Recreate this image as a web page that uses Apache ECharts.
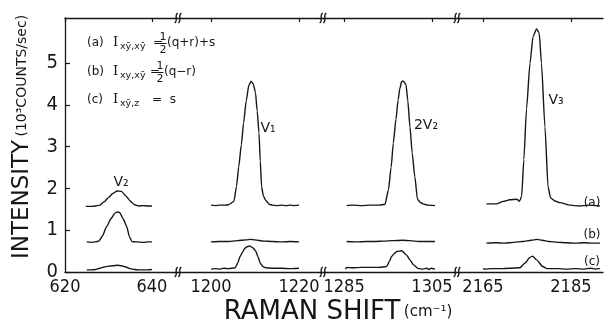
<!DOCTYPE html>
<html>
<head>
<meta charset="utf-8">
<script src="https://cdn.jsdelivr.net/npm/echarts@6/dist/echarts.min.js"></script>
<style>html,body{margin:0;padding:0;background:#fff}#c{width:608px;height:332px}</style>
</head>
<body>
<div id="c"></div>
<script>
// ---- data (Raman shift cm^-1, intensity 10^3 counts/sec) ----
const panelRanges = [[620, 646], [1192.5, 1225.45], [1280.2, 1310.7], [2159.1, 2192.3]];
const panelTicks = [[620, 640], [1200, 1220], [1285, 1305], [2165, 2185]];
const yTicks = [0, 1, 2, 3, 4, 5];
const yMax = 6.08;

// nu2 panel
const nu2A = [[624.8,1.57],[626,1.57],[627,1.58],[628,1.6],[629,1.68],[630,1.78],[631,1.88],[632,1.94],[633,1.93],[634,1.82],[635,1.7],[636,1.61],[637,1.58],[638,1.59],[639,1.58],[640,1.58]];
const nu2B = [[625,0.72],[626,0.71],[627,0.72],[627.8,0.74],[628.6,0.86],[629.6,1.09],[630.6,1.28],[631.5,1.41],[632,1.44],[632.6,1.42],[633.4,1.27],[634.2,1.09],[634.8,0.85],[635.4,0.73],[636.5,0.72],[638,0.71],[639,0.72],[640,0.72]];
const nu2C = [[625,0.05],[626,0.05],[627,0.06],[628,0.09],[629,0.12],[630,0.14],[631,0.15],[632,0.16],[633,0.15],[634,0.12],[635,0.08],[636,0.06],[637,0.05],[638,0.05],[639,0.05],[640,0.06]];
// nu1 panel
const nu1A = [[1200,1.6],[1201,1.59],[1202,1.6],[1203,1.6],[1204,1.61],[1205.2,1.69],[1205.8,2.05],[1206.3,2.52],[1206.9,3.05],[1207.4,3.56],[1208,4.1],[1208.6,4.47],[1209.1,4.57],[1209.6,4.5],[1210.1,4.3],[1210.5,3.85],[1210.9,3.33],[1211.2,2.65],[1211.5,2.04],[1211.9,1.82],[1212.4,1.72],[1213.2,1.62],[1214,1.6],[1215,1.59],[1216,1.6],[1217,1.59],[1218,1.6],[1219,1.59],[1220,1.6]];
const nu1B = [[1200,0.72],[1202,0.73],[1204,0.73],[1206,0.75],[1208,0.77],[1209,0.78],[1210,0.77],[1212,0.74],[1214,0.73],[1216,0.72],[1218,0.73],[1220,0.72]];
const nu1C = [[1200,0.07],[1201,0.08],[1202,0.07],[1203,0.09],[1204,0.08],[1205.5,0.1],[1206.1,0.22],[1206.6,0.37],[1207.2,0.48],[1207.7,0.57],[1208.3,0.61],[1208.9,0.62],[1209.5,0.58],[1210.1,0.51],[1210.7,0.36],[1211.2,0.21],[1211.8,0.13],[1212.4,0.1],[1214,0.09],[1216,0.09],[1218,0.08],[1220,0.09]];
// 2nu2 panel
const nu22A = [[1285.6,1.59],[1287,1.6],[1289,1.59],[1291,1.6],[1293,1.6],[1294.3,1.62],[1295.1,1.97],[1295.7,2.5],[1296.2,3.08],[1296.8,3.65],[1297.3,4.12],[1297.7,4.4],[1298.1,4.56],[1298.5,4.57],[1299.1,4.48],[1299.5,4.1],[1300,3.47],[1300.5,2.85],[1301.1,2.28],[1301.7,1.74],[1302.3,1.67],[1303,1.63],[1304,1.6],[1305.7,1.59]];
const nu22B = [[1285.6,0.73],[1288,0.72],[1290,0.73],[1292,0.73],[1294,0.74],[1296,0.75],[1298.3,0.76],[1300,0.75],[1302,0.73],[1304,0.73],[1305.7,0.73]];
const nu22C = [[1285.3,0.07],[1285.6,0.11],[1287,0.1],[1289,0.11],[1291,0.11],[1293,0.11],[1294.7,0.13],[1295.3,0.25],[1295.8,0.37],[1296.4,0.44],[1297,0.49],[1298.1,0.51],[1299.2,0.41],[1300,0.29],[1300.8,0.17],[1301.9,0.08],[1303,0.07],[1303.8,0.09],[1304.3,0.06],[1304.8,0.09],[1305.7,0.07]];
// nu3 panel
const nu3A = [[2165.8,1.63],[2168.1,1.63],[2169.6,1.69],[2171.1,1.73],[2172.7,1.74],[2173.3,1.69],[2173.8,1.81],[2174.3,2.69],[2174.9,3.89],[2175.7,5.0],[2176.4,5.64],[2177.2,5.82],[2177.8,5.72],[2178.3,5.0],[2179.1,3.48],[2179.8,2.04],[2180.4,1.77],[2181.4,1.7],[2182.5,1.66],[2184.8,1.6],[2186.9,1.58],[2189,1.6],[2191.6,1.58]];
const nu3B = [[2165.8,0.69],[2168,0.7],[2170,0.69],[2172,0.71],[2174,0.73],[2176,0.76],[2177.3,0.78],[2178.5,0.76],[2180,0.73],[2182,0.71],[2184,0.7],[2186,0.69],[2188,0.7],[2190,0.69],[2191.6,0.69]];
const nu3C = [[2165.1,0.09],[2165.2,0.07],[2167,0.08],[2169,0.08],[2171,0.09],[2173.4,0.1],[2174.5,0.21],[2175.7,0.35],[2176.3,0.38],[2177.2,0.29],[2178.6,0.13],[2179.6,0.08],[2182,0.08],[2184,0.07],[2186,0.08],[2188,0.07],[2189.5,0.09],[2190.5,0.07],[2191.6,0.08]];

const panelSeries = [[nu2A, nu2B, nu2C], [nu1A, nu1B, nu1C], [nu22A, nu22B, nu22C], [nu3A, nu3B, nu3C]];

// ---- layout ----
const gridTop = 18, gridHeight = 254;
const gridBoxes = [[65, 113], [178, 145], [323, 134], [457, 146]];
const INK = '#161616';
const NUMFONT = "'Liberation Sans Narrow','DejaVu Sans Condensed','Liberation Sans',sans-serif";
const TXTFONT = "'DejaVu Sans','Liberation Sans',sans-serif";

const grid = gridBoxes.map(b => ({left: b[0], width: b[1], top: gridTop, height: gridHeight}));
const xAxis = [];
const yAxis = [];
const series = [];
gridBoxes.forEach((b, i) => {
  const [mn, mx] = panelRanges[i];
  xAxis.push({
    type: 'value', gridIndex: i, position: 'bottom', min: mn, max: mx,
    axisLine: {show: true, onZero: false, lineStyle: {color: INK, width: 1.3}},
    axisTick: {show: false}, splitLine: {show: false},
    axisLabel: {customValues: panelTicks[i], formatter: v => String(v), color: INK, fontSize: 18, fontFamily: NUMFONT, margin: 6}
  });
  xAxis.push({
    type: 'value', gridIndex: i, position: 'top', min: mn, max: mx,
    axisLine: {show: true, onZero: false, lineStyle: {color: INK, width: 1.3}},
    axisTick: {show: true, inside: true, length: 4, customValues: panelTicks[i], lineStyle: {color: INK, width: 1.2}},
    axisLabel: {show: false}, splitLine: {show: false}
  });
  yAxis.push({
    type: 'value', gridIndex: i, min: 0, max: yMax, show: i === 0,
    axisLine: {show: true, lineStyle: {color: INK, width: 1.3}},
    axisTick: {show: true, inside: true, length: 5, customValues: yTicks, lineStyle: {color: INK, width: 1.2}},
    axisLabel: {customValues: yTicks, color: INK, fontSize: 20, fontFamily: NUMFONT, margin: 7},
    splitLine: {show: false}
  });
  panelSeries[i].forEach(d => {
    series.push({
      type: 'line', xAxisIndex: 2 * i, yAxisIndex: i, data: d, showSymbol: false, symbol: 'none',
      smooth: 0.2, smoothMonotone: 'x', lineStyle: {color: INK, width: 1.4}, silent: true, animation: false
    });
  });
});

// ---- decorations ----
const graphic = [];
const breaks = gridBoxes.slice(1).map(b => b[0]);
breaks.forEach(bx => {
  [gridTop, gridTop + gridHeight].forEach(by => {
    [-1.8, 1.8].forEach(dx => {
      graphic.push({type: 'bezierCurve', silent: true, z: 100,
        shape: {x1: bx + dx - 1.5, y1: by + 5, x2: bx + dx + 1.5, y2: by - 5, cpx1: bx + dx + 2.5, cpy1: by + 2, cpx2: bx + dx - 2.5, cpy2: by - 2},
        style: {stroke: INK, lineWidth: 1.3, fill: null}});
    });
  });
});
function txt(x, y, text, size, opts) {
  graphic.push(Object.assign({type: 'text', x: x, y: y, silent: true, z: 100,
    style: Object.assign({text: text, fill: INK, font: size + 'px ' + TXTFONT, align: 'left', verticalAlign: 'middle'}, (opts && opts.style) || {})},
    opts && opts.el || {}));
}
const SERIF = "'DejaVu Serif','Liberation Serif',serif";
// (a)
txt(87, 43, '(a)', 12);
txt(113, 43, 'I', 13, {style: {font: '13px ' + SERIF}});
txt(120, 47, 'xȳ,xȳ', 9.5);
txt(153, 43, '=', 12);
txt(163, 37, '1', 11, {style: {align: 'center'}});
txt(163, 50, '2', 11, {style: {align: 'center'}});
graphic.push({type: 'line', silent: true, shape: {x1: 159.5, y1: 43.5, x2: 166.5, y2: 43.5}, style: {stroke: INK, lineWidth: 1}});
txt(167, 43, '(q+r)+s', 12);
// (b)
txt(87, 72, '(b)', 12);
txt(113, 72, 'I', 13, {style: {font: '13px ' + SERIF}});
txt(120, 76, 'xy,xȳ', 9.5);
txt(150, 72, '=', 12);
txt(160, 66, '1', 11, {style: {align: 'center'}});
txt(160, 79, '2', 11, {style: {align: 'center'}});
graphic.push({type: 'line', silent: true, shape: {x1: 156.5, y1: 72.5, x2: 163.5, y2: 72.5}, style: {stroke: INK, lineWidth: 1}});
txt(164, 72, '(q−r)', 12);
// (c)
txt(87, 100, '(c)', 12);
txt(113, 100, 'I', 13, {style: {font: '13px ' + SERIF}});
txt(120, 104, 'xȳ,z', 9.5);
txt(152, 100, '=  s', 12);

// peak labels
txt(121, 182, 'V₂', 14, {style: {align: 'center'}});
txt(268, 128, 'V₁', 14, {style: {align: 'center'}});
txt(426, 125, '2V₂', 14, {style: {align: 'center'}});
txt(556, 100, 'V₃', 14, {style: {align: 'center'}});
// curve labels
txt(592, 203, '(a)', 12, {style: {align: 'center'}});
txt(592, 235, '(b)', 12, {style: {align: 'center'}});
txt(592, 262, '(c)', 12, {style: {align: 'center'}});

// axis titles
graphic.push({type: 'text', silent: true, x: 22, y: 137, rotation: Math.PI / 2,
  style: {text: '{b|INTENSITY} {s|(10³COUNTS/sec)}', align: 'center', verticalAlign: 'middle', fill: INK,
    rich: {b: {fontSize: 23, fontFamily: TXTFONT, fill: INK}, s: {fontSize: 14, fontFamily: TXTFONT, fill: INK}}}});
graphic.push({type: 'text', silent: true, x: 338, y: 312,
  style: {text: '{b|RAMAN SHIFT} {s|(cm⁻¹)}', align: 'center', verticalAlign: 'middle', fill: INK,
    rich: {b: {fontSize: 26, fontFamily: TXTFONT, fill: INK}, s: {fontSize: 15, fontFamily: TXTFONT, fill: INK}}}});

const chart = echarts.init(document.getElementById('c'), null, {renderer: 'canvas'});
chart.setOption({
  animation: false,
  backgroundColor: '#fff',
  grid: grid, xAxis: xAxis, yAxis: yAxis, series: series, graphic: graphic
});
</script>
</body>
</html>
